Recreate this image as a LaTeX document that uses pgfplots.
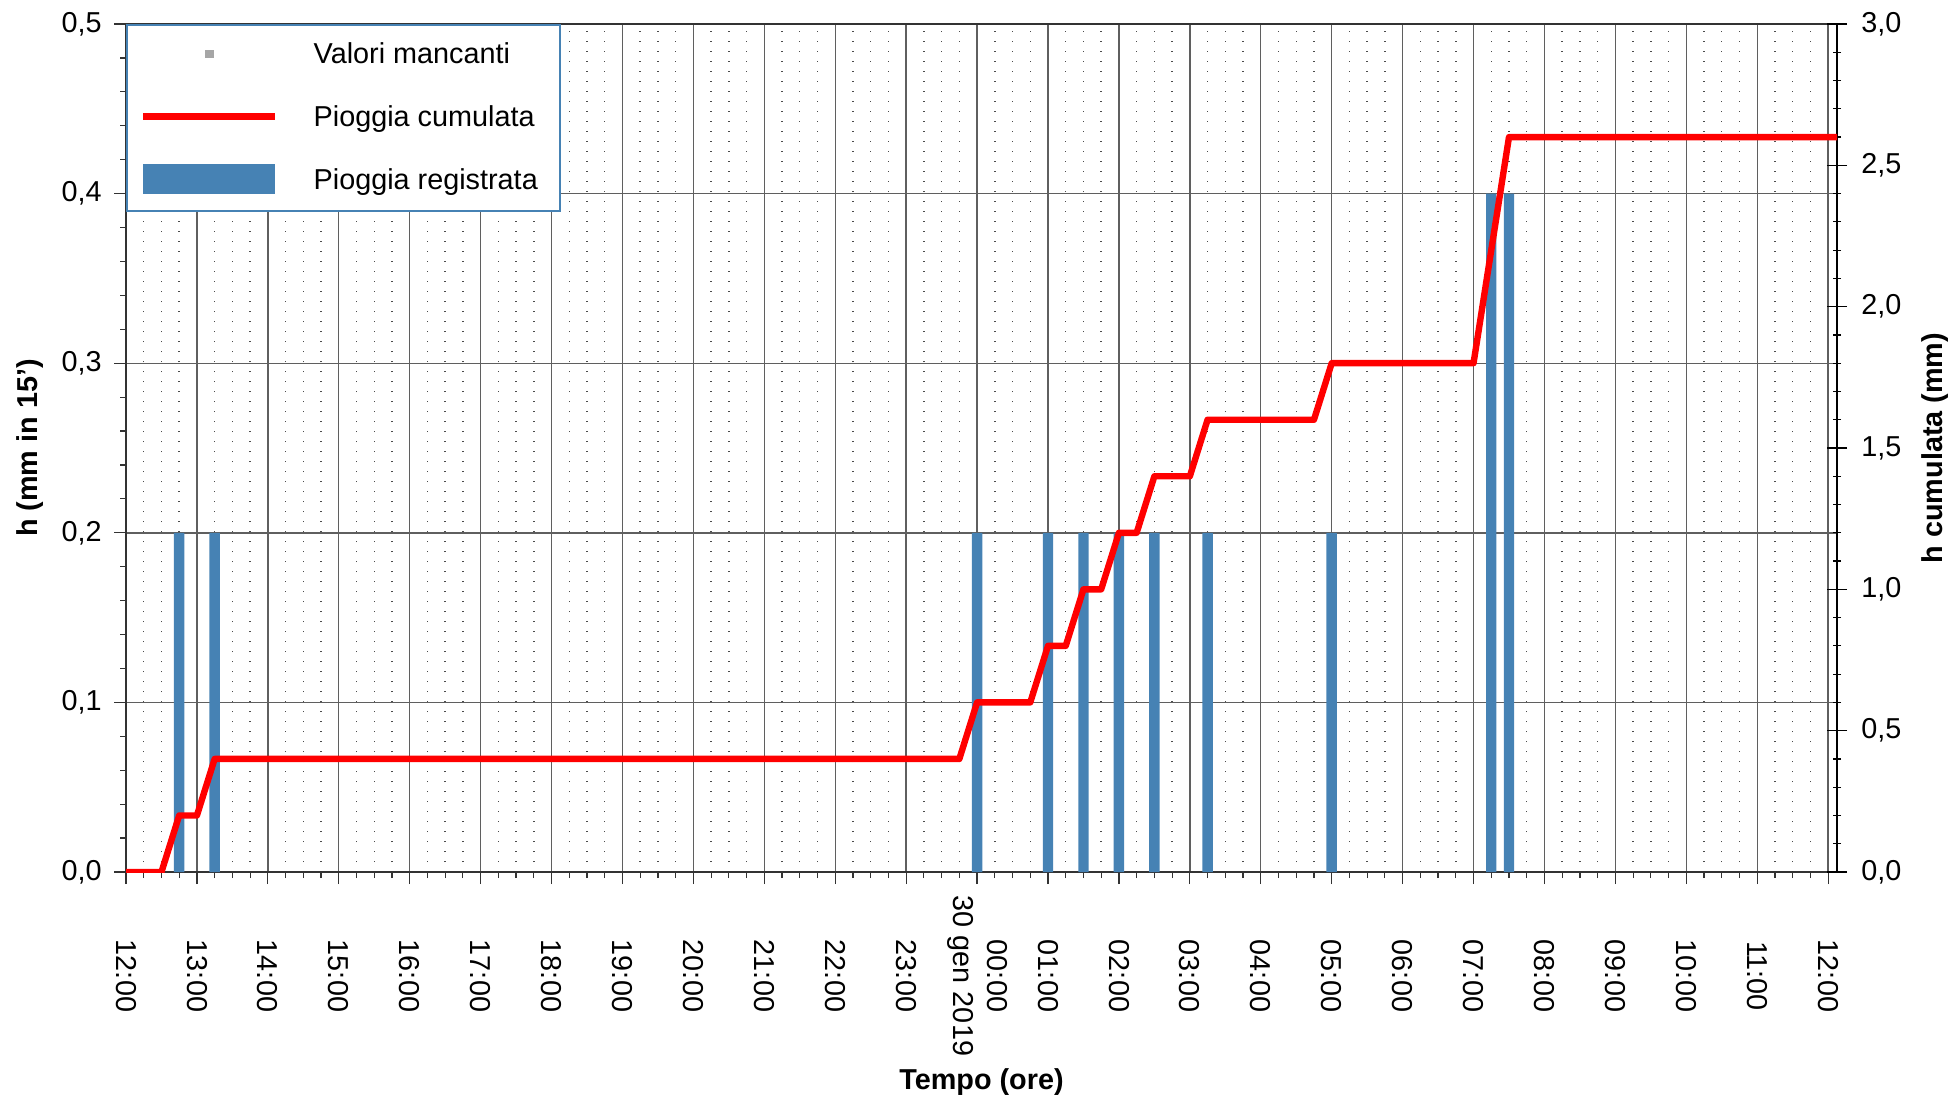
\documentclass[border=0pt]{standalone}
\usepackage{fontspec}
\setmainfont{Liberation Sans}
\usepackage{pgfplots}
\usepackage{pgfplotstable}
\pgfplotsset{compat=1.18}
\definecolor{barblue}{RGB}{70,130,180}
\definecolor{gridgray}{RGB}{95,95,95}

\pgfplotstableread{
t h
0.75 0.2
1.25 0.2
12.0 0.2
13.0 0.2
13.5 0.2
14.0 0.2
14.5 0.2
15.25 0.2
17.0 0.2
19.25 0.4
19.5 0.4
}\barsdata

\pgfplotstableread{
t c
0 0
0.5 0
0.75 0.2
1.0 0.2
1.25 0.4
11.75 0.4
12.0 0.6
12.75 0.6
13.0 0.8
13.25 0.8
13.5 1.0
13.75 1.0
14.0 1.2
14.25 1.2
14.5 1.4
15.0 1.4
15.25 1.6
16.75 1.6
17.0 1.8
19.0 1.8
19.25 2.2
19.5 2.6
24.125 2.6
}\cumdata

\begin{document}
\fontsize{14.4}{17}\selectfont
\begin{tikzpicture}
\useasboundingbox (0,0) rectangle (977pt,549.5pt);
\pgfplotsset{
  common/.style={
    width=855.5pt, height=424pt, scale only axis,
    at={(63pt,113.5pt)}, anchor=south west,
    xmin=0, xmax=24.125,
    tick label style={font=\fontsize{14.4}{17}\selectfont},
    label style={font=\fontsize{14.4}{17}\selectfont\bfseries},
    y tick label style={/pgf/number format/assume math mode=true,
      /pgf/number format/use comma, /pgf/number format/fixed,
      /pgf/number format/fixed zerofill, /pgf/number format/precision=1},
  }
}
\begin{axis}[common,
  ymin=0, ymax=0.5,
  ytick={0,0.1,0.2,0.3,0.4,0.5}, minor y tick num=4,
  xtick={0,1,...,24}, minor x tick num=3,
  xticklabels={12:00,13:00,14:00,15:00,16:00,17:00,18:00,19:00,20:00,21:00,22:00,23:00,{00:00\\30 gen 2019},01:00,02:00,03:00,04:00,05:00,06:00,07:00,08:00,09:00,10:00,11:00,12:00},
  xtick pos=bottom, ytick pos=left,
  tick align=outside, major tick length=6pt, minor tick length=3pt,
  tick style={black!80, line width=0.6pt},
  xmajorgrids, xminorgrids, ymajorgrids,
  major grid style={gridgray, line width=0.7pt},
  minor grid style={black!70, line width=0.7pt, dash pattern=on 0.7pt off 4.3pt},
  axis line style={black!80, line width=0.7pt},
  xticklabel style={yshift=-46pt, rotate=-90, anchor=center, align=center},
  yticklabel style={anchor=east, inner sep=0pt, xshift=-6pt},
  xlabel={Tempo (ore)},
  xlabel style={at={(axis description cs:0.5,-0.2476)}, anchor=center},
  ylabel={h (mm in 15')},
  ylabel style={at={(axis description cs:-0.0561,0.5)}, anchor=center},
  legend style={at={(0,1)}, anchor=north west, draw=barblue, line width=1.1pt,
    fill=white, inner xsep=6.5pt, inner ysep=6.8pt, row sep=14.65pt, column sep=17.5pt,
    nodes={inner sep=0pt, text height=12.5pt, text depth=4.2pt, anchor=base west},
    font=\fontsize{14.4}{17}\selectfont},
]
\addlegendimage{legend image code/.code={
  \path[draw=none, fill=none] (0pt,-2.5pt) rectangle (66pt,12.5pt);
  \fill[black!35] (31.5pt,3.5pt) rectangle (34.5pt,6.5pt);}}
\addlegendentry{\makebox[116.5pt][l]{Valori mancanti}}
\addlegendimage{legend image code/.code={
  \path[draw=none, fill=none] (0pt,-2.5pt) rectangle (66pt,12.5pt);
  \draw[red, line width=3.3pt] (0pt,5pt) -- (66pt,5pt);}}
\addlegendentry{\makebox[116.5pt][l]{Pioggia cumulata}}
\addlegendimage{legend image code/.code={
  \fill[barblue, draw=none] (0pt,-2.5pt) rectangle (66pt,12.5pt);}}
\addlegendentry{\makebox[116.5pt][l]{Pioggia registrata}}
\addplot[ybar, bar width=5.2pt, fill=barblue, draw=none, forget plot] table[x=t, y=h] {\barsdata};
\end{axis}
\begin{axis}[common,
  ymin=0, ymax=3,
  ytick={0,0.5,1,1.5,2,2.5,3}, minor y tick num=4,
  axis y line*=right, axis x line=none,
  tick align=center, major tick length=10pt, minor tick length=4pt,
  tick style={black, line width=0.6pt},
  axis line style={black, line width=0.7pt},
  yticklabel style={anchor=west, inner sep=0pt, xshift=7pt},
  ylabel={h cumulata (mm)},
  ylabel style={at={(axis description cs:1.0573,0.5)}, anchor=center, rotate=0},
]
\addplot[red, line width=3.2pt, line join=round, no markers] table[x=t, y=c] {\cumdata};
\end{axis}
\end{tikzpicture}
\end{document}
